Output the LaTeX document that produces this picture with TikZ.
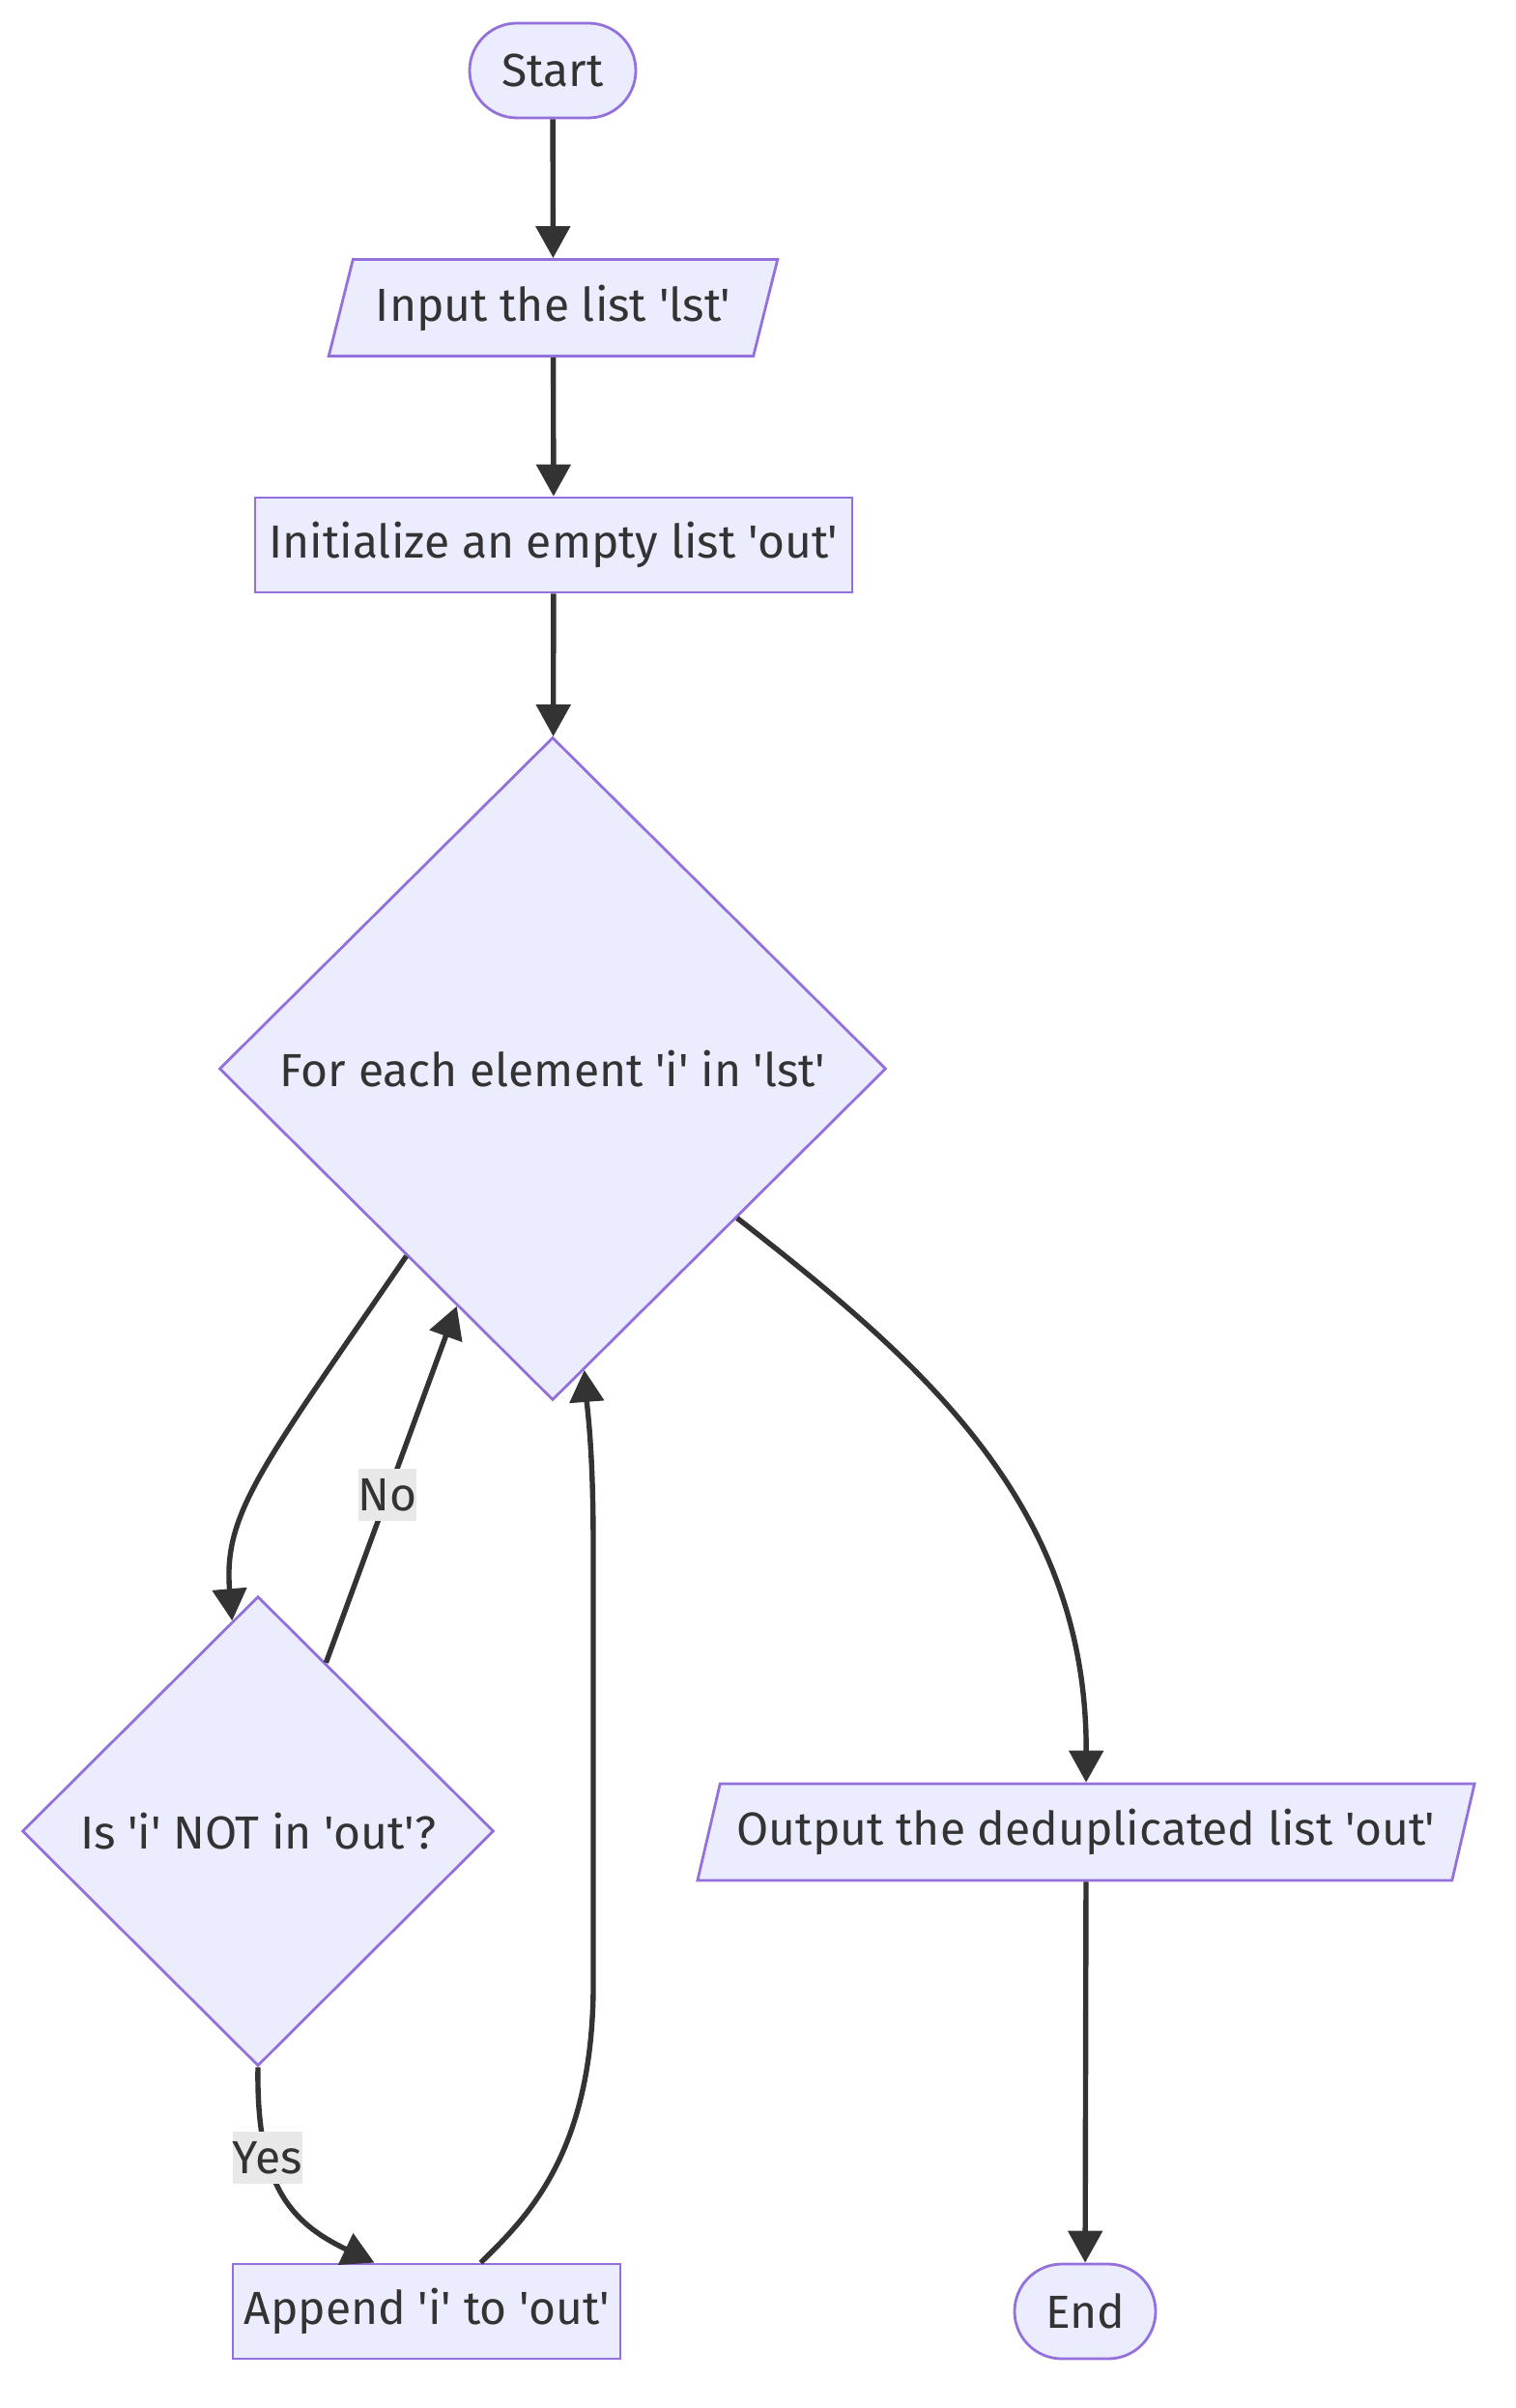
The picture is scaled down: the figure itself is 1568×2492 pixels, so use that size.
\documentclass[tikz,border=0pt]{standalone}
\usepackage{fontspec}
\setmainfont{Fira Sans}[Ligatures=TeXOff]
\usetikzlibrary{shapes.geometric,arrows.meta}

\definecolor{nodefill}{HTML}{ECECFF}
\definecolor{nodeline}{HTML}{9370DB}
\definecolor{edgeline}{HTML}{333333}
\definecolor{labelfill}{HTML}{E8E8E8}

\begin{document}
\begin{tikzpicture}[x=0.5pt,y=-0.5pt,
    box/.style={draw=nodeline,fill=nodefill,line width=1.4pt,text=edgeline,
      font=\fontsize{24}{29}\selectfont,inner sep=0pt},
    term/.style={box,rectangle,rounded corners=24.5pt,minimum height=49pt},
    proc/.style={box,rectangle,minimum height=49pt},
    io/.style={box,trapezium,trapezium left angle=65,trapezium right angle=115,
      trapezium stretches=true,minimum height=50pt},
    test/.style={box,diamond,aspect=1},
    flow/.style={draw=edgeline,line width=2.7pt,
      -{Triangle[length=16.5pt,width=17.5pt]}},
    lbl/.style={fill=labelfill,text=edgeline,font=\fontsize{24}{29}\selectfont,
      inner sep=0pt,minimum height=27pt}]

  \useasboundingbox (0,0) rectangle (1568,2492);

  \node[term,minimum width=86pt] (start) at (572,73) {Start};
  \node[io,minimum width=232.5pt] (input) at (572.5,318.5) {Input the list 'lst'};
  \node[proc,minimum width=309pt] (init) at (573,564) {Initialize an empty list 'out'};
  \node[test,minimum width=345pt,minimum height=343pt] (loop) at (572,1106) {For each element 'i' in 'lst'};
  \node[test,minimum width=244pt,minimum height=243pt] (check) at (267,1895) {Is 'i' NOT in 'out'?};
  \node[io,minimum width=404pt] (output) at (1124,1896) {Output the deduplicated list 'out'};
  \node[proc,minimum width=200.5pt] (append) at (441.5,2392) {Append 'i' to 'out'};
  \node[term,minimum width=73pt] (end) at (1123,2392) {End};

  \draw[flow] (start) -- (input);
  \draw[flow] (input) -- (init);
  \draw[flow] (init) -- (loop);
  \draw[flow] (loop.232.5) .. controls (271,1518) and (231,1566) .. (check.97);
  \draw[flow] (check.68.6) -- node[lbl,pos=0.47] {No} (loop.248.2);
  \draw[flow] (check.south) .. controls (265,2260) and (300,2300) .. node[lbl,pos=0.32] {Yes} (append.137.7);
  \draw[flow] (append.42) .. controls (545,2295) and (612,2230) .. (614,2060)
    -- (614,1600) .. controls (614,1500) and (608,1460) .. (loop.276);
  \draw[flow] (loop.321.6) .. controls (959,1413) and (1125,1560) .. (output.north);
  \draw[flow] (output) -- (end);
\end{tikzpicture}
\end{document}
